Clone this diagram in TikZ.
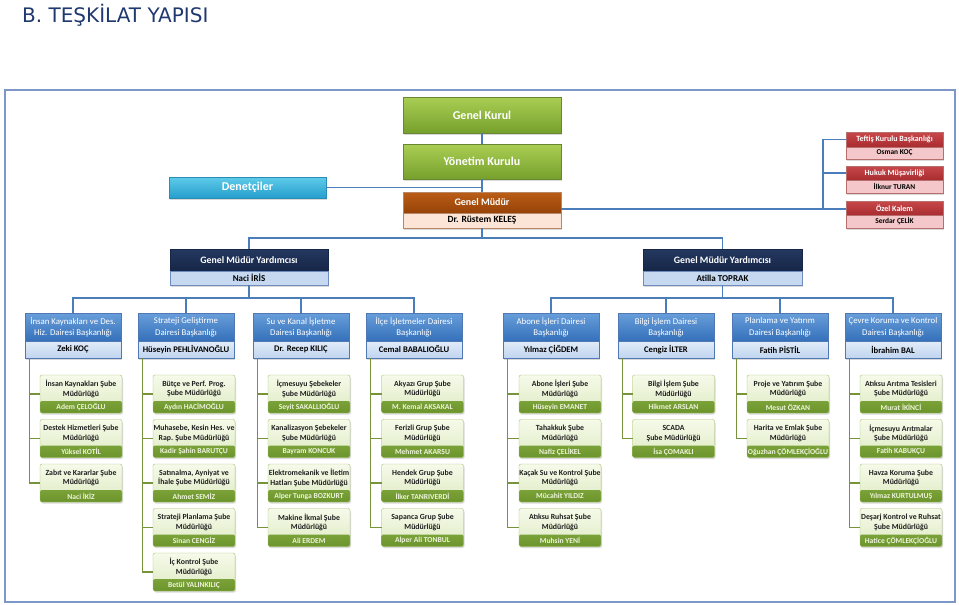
\documentclass[tikz,border=0pt]{standalone}
\usepackage{fontspec}
\setmainfont{Carlito}
\newfontfamily\titlefont{DejaVu Sans}
\usetikzlibrary{shadows}
\definecolor{titleblue}{RGB}{31,56,110}
\definecolor{framecol}{RGB}{125,152,200}
\definecolor{blineC}{RGB}{74,126,187}
\definecolor{glineC}{RGB}{119,147,60}
\definecolor{greenA}{RGB}{170,206,84}
\definecolor{greenB}{RGB}{118,160,44}
\definecolor{greenE}{RGB}{105,135,48}
\definecolor{cyanA}{RGB}{95,203,234}
\definecolor{cyanB}{RGB}{38,158,204}
\definecolor{cyanE}{RGB}{40,140,180}
\definecolor{brownA}{RGB}{186,94,22}
\definecolor{brownB}{RGB}{150,66,8}
\definecolor{gmlight}{RGB}{252,229,214}
\definecolor{gmborder}{RGB}{185,135,100}
\definecolor{redA}{RGB}{200,72,74}
\definecolor{redB}{RGB}{168,44,48}
\definecolor{redlight}{RGB}{244,200,202}
\definecolor{redborder}{RGB}{185,110,110}
\definecolor{navyA}{RGB}{36,56,96}
\definecolor{navyB}{RGB}{22,38,70}
\definecolor{gmylight}{RGB}{198,217,241}
\definecolor{gmyborder}{RGB}{110,140,190}
\definecolor{daiA}{RGB}{104,158,218}
\definecolor{daiB}{RGB}{52,112,186}
\definecolor{dailightA}{RGB}{226,236,248}
\definecolor{dailightB}{RGB}{192,213,240}
\definecolor{daiborder}{RGB}{80,120,180}
\definecolor{subeA}{RGB}{246,250,234}
\definecolor{subeB}{RGB}{222,235,194}
\definecolor{stripA}{RGB}{152,192,82}
\definecolor{stripB}{RGB}{108,148,44}
\definecolor{subeborder}{RGB}{165,192,108}
\definecolor{subenameC}{RGB}{238,244,220}
\newcommand\twobox[9]{%
  \node[box,#7top,anchor=north west,minimum width={#4-#2},minimum height={#5-#3}] (#1) at (#2,#3) {#8};
  \node[box,#7bot,anchor=north west,minimum width={#4-#2},minimum height={#6-#5}] (#1n) at (#2,#5) {#9};}
\newcommand\sube[6]{%
  \node[subebox,anchor=north west] (#1) at (#2,#3) {};
  \node[subetxt] (#1t) at ([yshift=-14pt]#1.north) {#4\\#5};
  \node[subename] (#1n) at ([yshift=6pt]#1.south) {#6};}
\begin{document}
\begin{tikzpicture}[x=1pt,y=-1pt,
  shad/.style={drop shadow={shadow xshift=1pt,shadow yshift=-1.5pt,opacity=0.3}},
  box/.style={inner sep=0pt,outer sep=0pt,align=center,shad},
  bline/.style={draw=blineC,line width=1.5pt},
  gline/.style={draw=glineC,line width=1.5pt},
  greenbox/.style={box,top color=greenA,bottom color=greenB,draw=greenE,line width=0.4pt,text=white,font=\fontsize{12}{14}\selectfont\bfseries},
  cyanbox/.style={box,top color=cyanA,bottom color=cyanB,draw=cyanE,line width=0.4pt,text=white,font=\fontsize{12}{14}\selectfont\bfseries},
  gmtop/.style={top color=brownA,bottom color=brownB,draw=gmborder,line width=0.4pt,text=white,font=\fontsize{10}{12}\selectfont\bfseries},
  gmbot/.style={fill=gmlight,draw=gmborder,line width=0.4pt,text=black,font=\fontsize{9.5}{11}\selectfont\bfseries},
  redtop/.style={top color=redA,bottom color=redB,draw=redborder,line width=0.4pt,text=white,font=\fontsize{8}{9}\selectfont\bfseries},
  redbot/.style={fill=redlight,draw=redborder,line width=0.4pt,text=black,font=\fontsize{7.4}{8.5}\selectfont\bfseries},
  gmytop/.style={top color=navyA,bottom color=navyB,draw=navyB,line width=0.4pt,text=white,font=\fontsize{9.8}{11}\selectfont\bfseries},
  gmybot/.style={fill=gmylight,draw=gmyborder,line width=0.4pt,text=black,font=\fontsize{9}{10}\selectfont\bfseries},
  daitop/.style={top color=daiA,bottom color=daiB,draw=daiborder,line width=0.4pt,text=white,font=\fontsize{8.8}{11.5}\selectfont},
  daibot/.style={top color=dailightA,bottom color=dailightB,draw=daiborder,line width=0.4pt,text=black,font=\fontsize{8.6}{10}\selectfont\bfseries},
  subebox/.style={shad,inner sep=0pt,outer sep=0pt,minimum width=82pt,minimum height=38pt,rounded corners=2pt,
    top color=subeA,bottom color=subeB,draw=subeborder,line width=0.4pt,
    path picture={\shade[top color=stripA,bottom color=stripB] (path picture bounding box.south west) rectangle ([yshift=12pt]path picture bounding box.south east);}},
  subetxt/.style={inner sep=0pt,align=center,text=black!88,font=\fontsize{7.8}{9.5}\selectfont\bfseries},
  subename/.style={inner sep=0pt,text=subenameC,font=\fontsize{7.6}{8.5}\selectfont\bfseries}
]
\useasboundingbox (0,0) rectangle (959,605);
\node[anchor=base west,inner sep=0pt,text=titleblue,font=\titlefont\fontsize{20}{24}\selectfont] (title) at (22,22.5) {B. TEŞKİLAT YAPISI};
\node[draw=framecol,line width=1.5pt,anchor=north west,inner sep=0pt,minimum width=950pt,minimum height=512pt] (frame) at (4,89) {};

% top level
\node[greenbox,anchor=north west,minimum width=158pt,minimum height=36pt] (gk) at (403,97) {Genel Kurul};
\node[greenbox,anchor=north west,minimum width=158pt,minimum height=35pt] (yk) at (403,144) {Yönetim Kurulu};
\twobox{gm}{403}{192}{561}{213}{228}{gm}{Genel Müdür}{Dr. Rüstem KELEŞ}
\node[cyanbox,anchor=north west,minimum width=157pt,minimum height=21pt] (den) at (169,177) {Denetçiler};
\twobox{tef}{846}{132}{943}{147}{159}{red}{Teftiş Kurulu Başkanlığı}{Osman KOÇ}
\twobox{huk}{846}{166}{943}{180}{193}{red}{Hukuk Müşavirliği}{İlknur TURAN}
\twobox{oze}{846}{201}{943}{215}{228}{red}{Özel Kalem}{Serdar ÇELİK}
\twobox{gmya}{170}{249}{328}{271}{285}{gmy}{Genel Müdür Yardımcısı}{Naci İRİS}
\twobox{gmyb}{643}{249}{802}{271}{285}{gmy}{Genel Müdür Yardımcısı}{Atilla TOPRAK}

% daire
\twobox{d1}{25}{313}{121}{341}{358}{dai}{İnsan Kaynakları ve Des.\\Hiz. Dairesi Başkanlığı}{Zeki KOÇ}
\twobox{d2}{138}{313}{234}{341}{358}{dai}{Strateji Geliştirme\\Dairesi Başkanlığı}{Hüseyin PEHLİVANOĞLU}
\twobox{d3}{253}{313}{349}{341}{358}{dai}{Su ve Kanal İşletme\\Dairesi Başkanlığı}{Dr. Recep KILIÇ}
\twobox{d4}{366}{313}{462}{341}{358}{dai}{İlçe İşletmeler Dairesi\\Başkanlığı}{Cemal BABALIOĞLU}
\twobox{d5}{503}{313}{599}{341}{358}{dai}{Abone İşleri Dairesi\\Başkanlığı}{Yılmaz ÇİĞDEM}
\twobox{d6}{618}{313}{714}{341}{358}{dai}{Bilgi İşlem Dairesi\\Başkanlığı}{Cengiz İLTER}
\twobox{d7}{732}{313}{828}{341}{358}{dai}{Planlama ve Yatırım\\Dairesi Başkanlığı}{Fatih PİSTİL}
\twobox{d8}{845}{313}{941}{341}{358}{dai}{Çevre Koruma ve Kontrol\\Dairesi Başkanlığı}{İbrahim BAL}

% sube
\sube{s1a}{40}{375}{İnsan Kaynakları Şube}{Müdürlüğü}{Adem ÇELOĞLU}
\sube{s1b}{40}{419.5}{Destek Hizmetleri Şube}{Müdürlüğü}{Yüksel KOTİL}
\sube{s1c}{40}{464}{Zabıt ve Kararlar Şube}{Müdürlüğü}{Naci İKİZ}

\sube{s2a}{153}{375}{Bütçe ve Perf. Prog.}{Şube Müdürlüğü}{Aydın HACİMOĞLU}
\sube{s2b}{153}{419.5}{Muhasebe, Kesin Hes. ve}{Rap. Şube Müdürlüğü}{Kadir Şahin BARUTÇU}
\sube{s2c}{153}{464}{Satınalma, Ayniyat ve}{İhale Şube Müdürlüğü}{Ahmet SEMİZ}
\sube{s2d}{153}{508.5}{Strateji Planlama Şube}{Müdürlüğü}{Sinan CENGİZ}
\sube{s2e}{153}{553}{İç Kontrol Şube}{Müdürlüğü}{Betül YALINKILIÇ}

\sube{s3a}{268}{375}{İçmesuyu Şebekeler}{Şube Müdürlüğü}{Seyit SAKALLIOĞLU}
\sube{s3b}{268}{419.5}{Kanalizasyon Şebekeler}{Şube Müdürlüğü}{Bayram KONCUK}
\sube{s3c}{268}{464}{Elektromekanik ve İletim}{Hatları Şube Müdürlüğü}{Alper Tunga BOZKURT}
\sube{s3d}{268}{508.5}{Makine İkmal Şube}{Müdürlüğü}{Ali ERDEM}

\sube{s4a}{381.5}{375}{Akyazı Grup Şube}{Müdürlüğü}{M. Kemal AKSAKAL}
\sube{s4b}{381.5}{419.5}{Ferizli Grup Şube}{Müdürlüğü}{Mehmet AKARSU}
\sube{s4c}{381.5}{464}{Hendek Grup Şube}{Müdürlüğü}{İlker TANRIVERDİ}
\sube{s4d}{381.5}{508.5}{Sapanca Grup Şube}{Müdürlüğü}{Alper Ali TONBUL}

\sube{s5a}{519}{375}{Abone İşleri  Şube}{Müdürlüğü}{Hüseyin EMANET}
\sube{s5b}{519}{419.5}{Tahakkuk Şube}{Müdürlüğü}{Nafiz ÇELİKEL}
\sube{s5c}{519}{464}{Kaçak Su ve Kontrol Şube}{Müdürlüğü}{Mücahit YILDIZ}
\sube{s5d}{519}{508.5}{Atıksu Ruhsat  Şube}{Müdürlüğü}{Muhsin YENİ}

\sube{s6a}{632.5}{375}{Bilgi İşlem Şube}{Müdürlüğü}{Hikmet ARSLAN}
\sube{s6b}{632.5}{419.5}{SCADA}{Şube Müdürlüğü}{İsa ÇOMAKLI}

\sube{s7a}{747}{375}{Proje ve Yatırım Şube}{Müdürlüğü}{Mesut ÖZKAN}
\sube{s7b}{747}{419.5}{Harita ve Emlak Şube}{Müdürlüğü}{Oğuzhan ÇÖMLEKÇİOĞLU}

\sube{s8a}{860}{375}{Atıksu Arıtma Tesisleri}{Şube Müdürlüğü}{Murat İKİNCİ}
\sube{s8b}{860}{419.5}{İçmesuyu Arıtmalar}{Şube Müdürlüğü}{Fatih KABUKÇU}
\sube{s8c}{860}{464}{Havza Koruma Şube}{Müdürlüğü}{Yılmaz KURTULMUŞ}
\sube{s8d}{860}{508.5}{Deşarj Kontrol ve Ruhsat}{Şube Müdürlüğü}{Hatice ÇÖMLEKÇİOĞLU}

% blue connectors
\draw[bline] (gk) -- (yk);
\draw[bline] (yk) -- (gm);
\draw[bline] (den.east) -- (den.east -| yk.south);
\coordinate (rbus) at (823,209);
\draw[bline] (gm.east |- rbus) -- (rbus);
\draw[bline] (rbus) |- (tef.west);
\draw[bline] (rbus |- huk.west) -- (huk.west);
\draw[bline] (rbus) -- (oze.west |- rbus);
\coordinate (bus1) at (482,238);
\draw[bline] (gmn.south) -- (bus1);
\draw[bline] (gmya.north) |- (bus1) -| (gmyb.north);
\coordinate (bus2) at (249,298);
\coordinate (bus3) at (722.5,298);
\draw[bline] (gmyan.south) -- (bus2);
\draw[bline] (gmybn.south) -- (bus3);
\draw[bline] (d1.north) |- (bus2) -| (d4.north);
\draw[bline] (d2.north) -- (d2.north |- bus2);
\draw[bline] (d3.north) -- (d3.north |- bus2);
\draw[bline] (d5.north) |- (bus3) -| (d8.north);
\draw[bline] (d6.north) -- (d6.north |- bus3);
\draw[bline] (d7.north) -- (d7.north |- bus3);

% green connectors
\coordinate (t1) at (29.5,358);
\coordinate (t2) at (142.5,358);
\coordinate (t3) at (257.5,358);
\coordinate (t4) at (370.5,358);
\coordinate (t5) at (507.5,358);
\coordinate (t6) at (622.5,358);
\coordinate (t7) at (736.5,358);
\coordinate (t8) at (849.5,358);
\draw[gline] (t1) |- (s1c.west);
\foreach \s in {s1a,s1b} \draw[gline] (t1 |- \s.west) -- (\s.west);
\draw[gline] (t2) |- (s2e.west);
\foreach \s in {s2a,s2b,s2c,s2d} \draw[gline] (t2 |- \s.west) -- (\s.west);
\draw[gline] (t3) |- (s3d.west);
\foreach \s in {s3a,s3b,s3c} \draw[gline] (t3 |- \s.west) -- (\s.west);
\draw[gline] (t4) |- (s4d.west);
\foreach \s in {s4a,s4b,s4c} \draw[gline] (t4 |- \s.west) -- (\s.west);
\draw[gline] (t5) |- (s5d.west);
\foreach \s in {s5a,s5b,s5c} \draw[gline] (t5 |- \s.west) -- (\s.west);
\draw[gline] (t6) |- (s6b.west);
\draw[gline] (t6 |- s6a.west) -- (s6a.west);
\draw[gline] (t7) |- (s7b.west);
\draw[gline] (t7 |- s7a.west) -- (s7a.west);
\draw[gline] (t8) |- (s8d.west);
\foreach \s in {s8a,s8b,s8c} \draw[gline] (t8 |- \s.west) -- (\s.west);
\end{tikzpicture}
\end{document}
